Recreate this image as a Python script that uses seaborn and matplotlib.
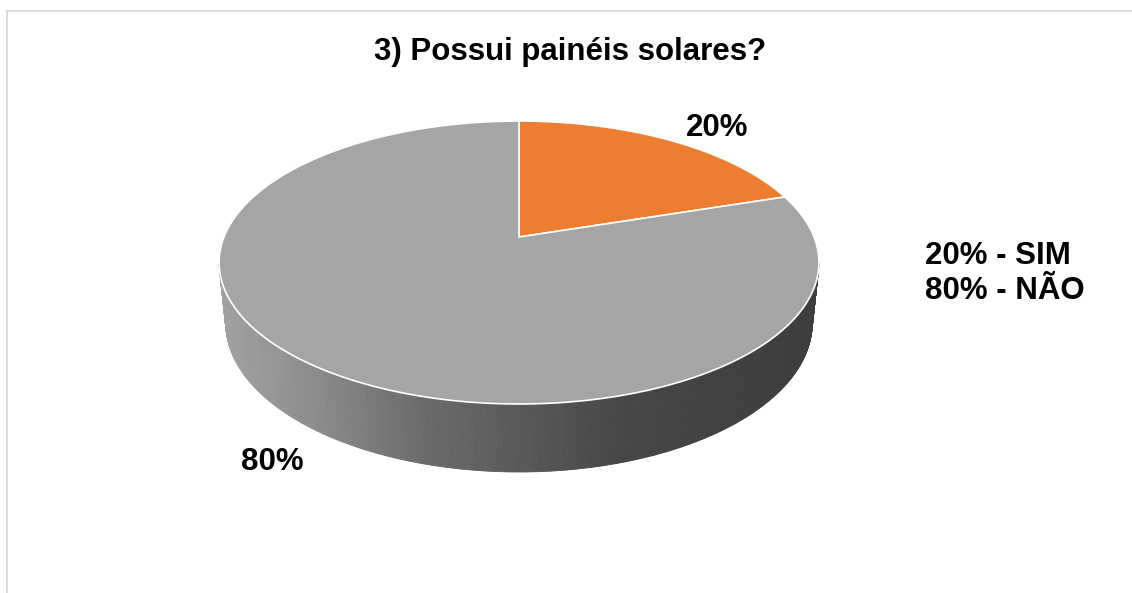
import numpy as np
import matplotlib.pyplot as plt
import seaborn as sns
from matplotlib.patches import Polygon
from matplotlib.collections import PolyCollection

# Data
categories = ['SIM', 'NÃO']
values = [20, 80]
slice_labels = ['20%', '80%']
title = '3) Possui painéis solares?'

sns.set_theme(style="white")
plt.rcParams['font.family'] = ['Liberation Sans', 'DejaVu Sans']
plt.rcParams['text.color'] = 'black'

colors = sns.color_palette(['#ED7D31', '#A5A5A5'])

# 3D pie geometry (screen pixels)
cx, cy = 519, 237      # projected pie centre
k = 295                # radius scale
cb = 0.464             # cos of tilt
sb = np.sqrt(1 - cb ** 2)
d = 4.913              # perspective distance
h = 0.233              # thickness


def proj(theta, z=0.0, r=1.0):
    X = r * np.cos(theta)
    Y = r * np.sin(theta)
    yp = Y * cb + z * sb
    depth = Y * sb - z * cb
    f = d / (d + depth)
    return cx + k * X * f, cy - k * yp * f


fig = plt.figure(figsize=(11.32, 5.93), dpi=100)
ax = fig.add_axes([0, 0, 1, 1])
ax.set_xlim(0, 1132)
ax.set_ylim(593, 0)
ax.axis('off')

# chart frame
ax.plot([7, 1132], [11, 11], color='#d9d9d9', lw=1.3)
ax.plot([7, 7], [11, 593], color='#d9d9d9', lw=1.3)

# silhouette angles (widest points of the rim)
tt = np.linspace(np.pi, 2 * np.pi, 2001)
xs, _ = proj(tt)
t_left = tt[np.argmin(xs)]
t_right = tt[np.argmax(xs)]

# side wall with horizontal gradient
n = 400
ts = np.linspace(t_left, t_right, n + 1)
quads = []
xmid = []
for i in range(n):
    a, b = ts[i], ts[i + 1]
    x1, y1 = proj(a)
    x2, y2 = proj(b)
    x3, y3 = proj(b, -h)
    x4, y4 = proj(a, -h)
    quads.append([(x1, y1), (x2, y2), (x3, y3), (x4, y4)])
    xmid.append((x1 + x2) / 2)
xmid = np.array(xmid)
grad = sns.blend_palette(['#a2a2a2', '#8a8a8a', '#6b6b6b', '#595959', '#474747', '#404040', '#3e3e3e'], n_colors=101)
tpos = np.clip((xmid - xmid.min()) / (xmid.max() - xmid.min()), 0, 1)
side_cols = [grad[int(round(t * 100))] for t in tpos]
ax.add_collection(PolyCollection(quads, facecolors=side_cols, edgecolors=side_cols, linewidths=0.6))

# top faces of the slices
start = np.pi / 2
total = sum(values)
for v, col in zip(values, colors):
    span = 2 * np.pi * v / total
    th = np.linspace(start, start - span, 300)
    px, py = proj(th)
    pts = [(cx, cy)] + list(zip(px, py))
    ax.add_patch(Polygon(pts, closed=True, facecolor=col, edgecolor='white', lw=1.2, joinstyle='round'))
    start -= span

# labels
txt = dict(fontsize=22.5, fontweight='bold', color='black', va='center')
ax.text(717, 128, slice_labels[0], ha='center', **txt)
ax.text(272, 462, slice_labels[1], ha='center', **txt)
ax.text(570, 52, title, ha='center', **txt)
ax.text(925, 256, f'{values[0]}% - {categories[0]}', ha='left', **txt)
ax.text(925, 291, f'{values[1]}% - {categories[1]}', ha='left', **txt)

plt.savefig('out.png', dpi=100)
plt.close()
